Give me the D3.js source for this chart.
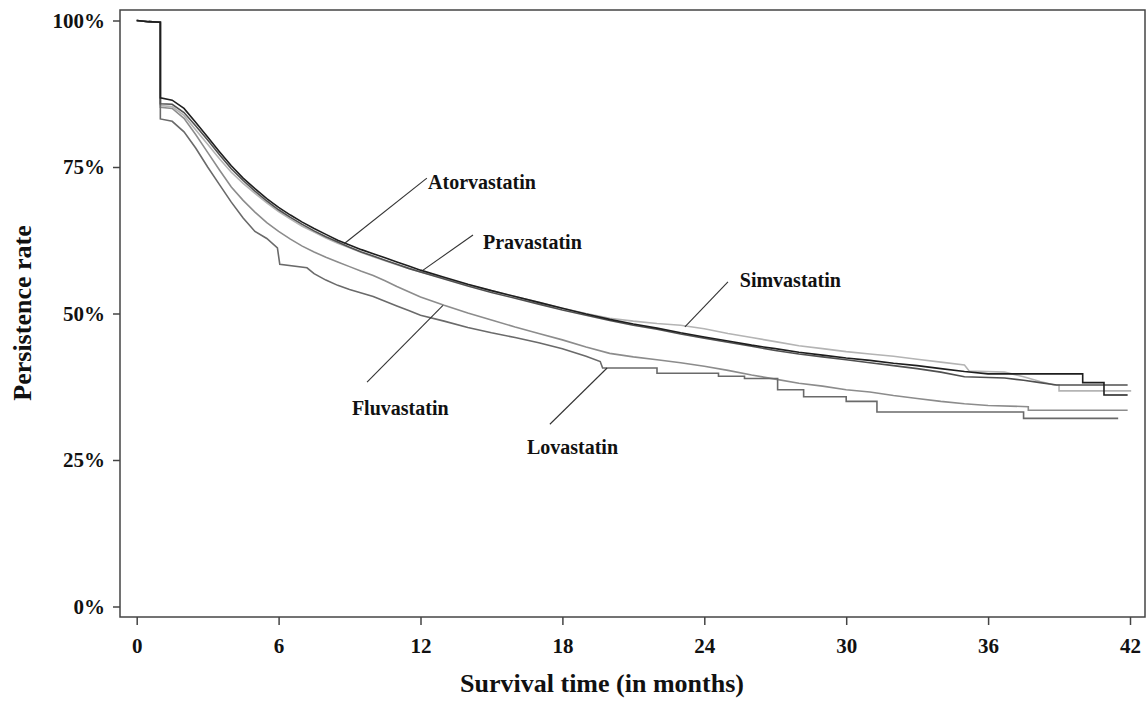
<!DOCTYPE html>
<html>
<head>
<meta charset="utf-8">
<script src="https://cdn.jsdelivr.net/npm/d3@7"></script>
<style>
  body { margin: 0; background: #fff; }
  text { font-family: "Liberation Serif", "Times New Roman", serif; font-weight: bold; fill: #111; }
</style>
</head>
<body>
<script>
// months, persistence (fraction); repeated months mark a vertical step
const atorvastatin = [[0,1.0],[0.5,0.998],[1.0,0.997],[1.0,0.868],[1.5,0.864],[2.0,0.850],[2.5,0.826],[3.0,0.801],[3.5,0.776],[4.0,0.752],[4.5,0.731],[5.0,0.713],[5.5,0.696],[6.0,0.681],[6.5,0.668],[7.0,0.656],[7.5,0.645],[8.0,0.635],[8.5,0.625],[9.0,0.617],[9.5,0.609],[10.0,0.602],[10.5,0.595],[11.0,0.588],[11.5,0.581],[12.0,0.574],[13,0.562],[14,0.550],[15,0.539],[16,0.529],[17,0.519],[18,0.509],[19,0.499],[20,0.490],[21,0.482],[22,0.475],[23,0.467],[24,0.460],[25,0.453],[26,0.446],[27,0.440],[28,0.434],[29,0.429],[30,0.424],[31,0.420],[32,0.415],[33,0.411],[34,0.406],[35,0.401],[36,0.397],[40.0,0.397],[40.0,0.382],[40.9,0.382],[40.9,0.361],[41.9,0.361]];
const pravastatin = [[0,1.0],[0.5,0.998],[1.0,0.997],[1.0,0.858],[1.5,0.857],[2.0,0.843],[2.5,0.820],[3.0,0.796],[3.5,0.771],[4.0,0.747],[4.5,0.727],[5.0,0.709],[5.5,0.692],[6.0,0.677],[6.5,0.664],[7.0,0.652],[7.5,0.641],[8.0,0.631],[8.5,0.622],[9.0,0.613],[9.5,0.605],[10.0,0.598],[10.5,0.591],[11.0,0.584],[11.5,0.577],[12.0,0.571],[13,0.559],[14,0.547],[15,0.536],[16,0.526],[17,0.516],[18,0.506],[19,0.497],[20,0.488],[21,0.480],[22,0.473],[23,0.465],[24,0.458],[25,0.451],[26,0.444],[27,0.437],[28,0.431],[29,0.426],[30,0.421],[31,0.416],[32,0.411],[33,0.406],[34,0.400],[35,0.392],[36.7,0.390],[37.5,0.386],[38.2,0.382],[38.9,0.378],[41.9,0.378]];
const simvastatin = [[0,1.0],[0.5,0.998],[1.0,0.997],[1.0,0.855],[1.5,0.853],[2.0,0.838],[2.5,0.813],[3.0,0.789],[3.5,0.764],[4.0,0.741],[4.5,0.722],[5.0,0.705],[5.5,0.689],[6.0,0.674],[6.5,0.661],[7.0,0.649],[7.5,0.639],[8.0,0.629],[8.5,0.620],[9.0,0.612],[9.5,0.604],[10.0,0.597],[10.5,0.590],[11.0,0.583],[11.5,0.577],[12.0,0.571],[13,0.560],[14,0.549],[15,0.539],[16,0.529],[17,0.519],[18,0.509],[19,0.500],[20,0.492],[21,0.487],[22,0.483],[23,0.480],[24,0.474],[25,0.466],[26,0.459],[27,0.452],[28,0.445],[29,0.440],[30,0.435],[31,0.431],[32,0.427],[33,0.422],[34,0.417],[35,0.412],[35.2,0.402],[36.7,0.400],[37.5,0.392],[38.2,0.384],[38.8,0.378],[39.0,0.378],[39.0,0.368],[42.05,0.368]];
const fluvastatin = [[0,1.0],[0.5,0.998],[1.0,0.997],[1.0,0.852],[1.5,0.850],[2.0,0.833],[2.5,0.805],[3.0,0.775],[3.5,0.745],[4.0,0.716],[4.5,0.693],[5.0,0.673],[5.5,0.655],[6.0,0.640],[6.5,0.627],[7.0,0.615],[7.5,0.605],[8.0,0.596],[8.5,0.588],[9.0,0.580],[9.5,0.572],[10.0,0.565],[10.5,0.556],[11.0,0.546],[11.5,0.537],[12.0,0.528],[13,0.514],[14,0.501],[15,0.489],[16,0.477],[17,0.466],[18,0.455],[19,0.443],[20,0.432],[21,0.426],[22,0.421],[23,0.416],[24,0.410],[25,0.403],[26,0.395],[27,0.388],[28,0.381],[29,0.376],[30,0.370],[31,0.366],[32,0.360],[33,0.355],[34,0.350],[35,0.346],[36,0.343],[37.7,0.341],[37.7,0.335],[41.9,0.335]];
const lovastatin = [[0,1.0],[0.5,0.998],[1.0,0.997],[1.0,0.832],[1.5,0.828],[2.0,0.810],[2.5,0.782],[3.0,0.750],[3.5,0.720],[4.0,0.690],[4.5,0.663],[5.0,0.640],[5.5,0.628],[5.95,0.612],[6.05,0.584],[7.2,0.578],[7.5,0.568],[8.0,0.557],[8.5,0.548],[9.0,0.541],[9.5,0.535],[10.0,0.529],[10.5,0.521],[11.0,0.513],[11.5,0.505],[12.0,0.497],[13,0.487],[14,0.476],[15,0.467],[16,0.459],[17,0.450],[18,0.440],[19,0.427],[19.6,0.418],[19.7,0.407],[22.0,0.407],[22.0,0.398],[24.6,0.398],[24.6,0.393],[25.7,0.393],[25.7,0.389],[27.1,0.389],[27.1,0.370],[28.2,0.370],[28.2,0.358],[30.0,0.358],[30.0,0.350],[31.3,0.350],[31.3,0.332],[37.5,0.332],[37.5,0.321],[41.5,0.321]];

const seriesNames = ["Atorvastatin", "Pravastatin", "Simvastatin", "Fluvastatin", "Lovastatin"];
const seriesValues = [atorvastatin, pravastatin, simvastatin, fluvastatin, lovastatin];
const seriesColors = ["#1e1e1e", "#505050", "#b4b4b4", "#8c8c8c", "#6a6a6a"];

const xTicks = [0, 6, 12, 18, 24, 30, 36, 42];
const yTicks = [0, 0.25, 0.5, 0.75, 1];

// label placement in data units: [label t, label p, leader start t, p, leader end t, p]
const labelSpots = [
    [12.32, 0.724, 12.27, 0.731, 8.77, 0.619],
    [14.64, 0.622, 14.22, 0.634, 12.11, 0.574],
    [25.50, 0.557, 25.00, 0.554, 23.18, 0.477],
    [9.10, 0.338, 9.74, 0.383, 12.95, 0.514],
    [16.50, 0.273, 17.47, 0.311, 19.89, 0.407]
];

const width = 1146, height = 703;
const frame = { left: 120, top: 10, right: 1145, bottom: 617 };

const svg = d3.select("body").append("svg")
    .attr("width", width)
    .attr("height", height);

const x = d3.scaleLinear().domain([0, 42]).range([136.7, 1130]);
const y = d3.scaleLinear().domain([0, 1]).range([606.5, 20.5]);

svg.append("rect")
    .attr("x", frame.left)
    .attr("y", frame.top)
    .attr("width", frame.right - frame.left)
    .attr("height", frame.bottom - frame.top)
    .attr("fill", "none")
    .attr("stroke", "#444")
    .attr("stroke-width", 1.5);

const xAxis = svg.append("g")
    .attr("transform", "translate(0," + frame.bottom + ")")
    .call(d3.axisBottom(x).tickValues(xTicks).tickSize(8).tickSizeOuter(0).tickPadding(13));
xAxis.select(".domain").remove();
xAxis.selectAll("line").attr("stroke", "#444").attr("stroke-width", 1.5);
xAxis.selectAll("text").style("font-size", "21px").attr("fill", "#111");

const yAxis = svg.append("g")
    .attr("transform", "translate(" + frame.left + ",0)")
    .call(d3.axisLeft(y).tickValues(yTicks).tickFormat(d3.format(".0%")).tickSize(7).tickSizeOuter(0).tickPadding(8));
yAxis.select(".domain").remove();
yAxis.selectAll("line").attr("stroke", "#444").attr("stroke-width", 1.5);
yAxis.selectAll("text").style("font-size", "21px").attr("fill", "#111");

const line = d3.line()
    .x(d => x(d[0]))
    .y(d => y(d[1]));

// light lines first so the black one sits on top
const drawOrder = [2, 3, 4, 1, 0];
svg.append("g")
    .selectAll("path")
    .data(drawOrder)
    .enter()
    .append("path")
    .attr("d", i => line(seriesValues[i]))
    .attr("fill", "none")
    .attr("stroke", i => seriesColors[i])
    .attr("stroke-width", 1.6);

const labels = svg.append("g")
    .selectAll("g")
    .data(seriesNames)
    .enter()
    .append("g");
labels.append("line")
    .attr("x1", (d, i) => x(labelSpots[i][2]))
    .attr("y1", (d, i) => y(labelSpots[i][3]))
    .attr("x2", (d, i) => x(labelSpots[i][4]))
    .attr("y2", (d, i) => y(labelSpots[i][5]))
    .attr("stroke", "#333")
    .attr("stroke-width", 1.1);
labels.append("text")
    .attr("x", (d, i) => x(labelSpots[i][0]))
    .attr("y", (d, i) => y(labelSpots[i][1]))
    .attr("dy", "0.35em")
    .style("font-size", "20px")
    .text(d => d);

svg.append("text")
    .attr("x", 602)
    .attr("y", 692)
    .attr("text-anchor", "middle")
    .style("font-size", "26px")
    .text("Survival time (in months)");

svg.append("text")
    .attr("transform", "translate(31,313) rotate(-90)")
    .attr("text-anchor", "middle")
    .style("font-size", "26px")
    .text("Persistence rate");
</script>
</body>
</html>
